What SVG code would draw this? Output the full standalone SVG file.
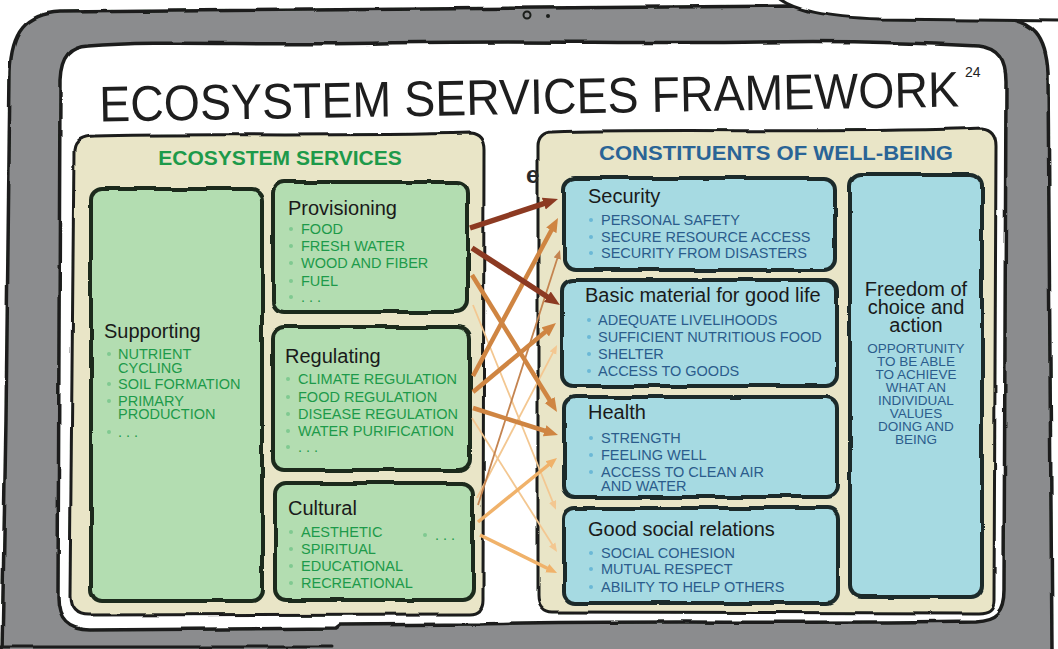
<svg xmlns="http://www.w3.org/2000/svg" width="1058" height="649" viewBox="0 0 1058 649">
  <style>
    .ink { stroke: #1b1e1b; stroke-linejoin: round; stroke-linecap: round; }
    .frame { fill: #8b8c8e; stroke-width: 3.5; }
    .screen { fill: #ffffff; stroke-width: 3.5; }
    .panel { fill: #e9e5c7; stroke-width: 3; }
    .gbox { fill: #b3ddb1; stroke: #1d2b1f; stroke-width: 4; }
    .bbox { fill: #a6dae2; stroke: #1c2a2c; stroke-width: 4; }
    text { font-family: "Liberation Sans", Arial, sans-serif; }
    .title { font-size: 50px; fill: #1e1e1e; }
    .sup { font-size: 14px; fill: #222; }
    .phead { font-size: 21px; font-weight: bold; }
    .h { font-size: 20px; fill: #1a1a1a; }
    .gi { font-size: 14.5px; fill: #1d9a4a; }
    .bi { font-size: 14.5px; fill: #2b5c8c; }
    .fb { font-size: 13.5px; fill: #2b5c8c; }
    .gb { fill: #80c991; }
    .bb { fill: #6bb8d6; }
    .arrow { fill: none; stroke-linecap: butt; }
    .a-dark { stroke: #8c3a22; stroke-width: 5.5; }
    .a-med { stroke: #cf8542; stroke-width: 4.5; }
    .a-light { stroke: #f0b26a; stroke-width: 3.5; }
    .a-brown { stroke: #c48450; stroke-width: 1.8; }
    .a-pale { stroke: #f3c791; stroke-width: 1.8; }
  </style>
  <defs>
    <filter id="rough" x="-3%" y="-3%" width="106%" height="106%">
      <feTurbulence type="fractalNoise" baseFrequency="0.025" numOctaves="2" seed="7" result="n"/>
      <feDisplacementMap in="SourceGraphic" in2="n" scale="4" xChannelSelector="R" yChannelSelector="G"/>
    </filter>
    <marker id="h-dark" viewBox="0 0 12 10" refX="5" refY="5" markerUnits="userSpaceOnUse" markerWidth="15" markerHeight="14" orient="auto">
      <path d="M0,0 L12,5 L0,10 Z" fill="#8c3a22"/>
    </marker>
    <marker id="h-med" viewBox="0 0 12 10" refX="5" refY="5" markerUnits="userSpaceOnUse" markerWidth="14" markerHeight="13" orient="auto">
      <path d="M0,0 L12,5 L0,10 Z" fill="#cf8542"/>
    </marker>
    <marker id="h-light" viewBox="0 0 12 10" refX="5" refY="5" markerUnits="userSpaceOnUse" markerWidth="11" markerHeight="11" orient="auto">
      <path d="M0,0 L12,5 L0,10 Z" fill="#f0b26a"/>
    </marker>
    <marker id="h-brown" viewBox="0 0 12 10" refX="5" refY="5" markerUnits="userSpaceOnUse" markerWidth="9" markerHeight="8" orient="auto">
      <path d="M0,0 L12,5 L0,10 Z" fill="#c48450"/>
    </marker>
    <marker id="h-pale" viewBox="0 0 12 10" refX="5" refY="5" markerUnits="userSpaceOnUse" markerWidth="9" markerHeight="8" orient="auto">
      <path d="M0,0 L12,5 L0,10 Z" fill="#f3c791"/>
    </marker>
  </defs>

  <rect width="1058" height="649" fill="#ffffff"/>

  <!-- tablet body, screen and speech bubble -->
  <g id="tablet" filter="url(#rough)">
    <path class="ink frame" d="M2,652 L6,420 L10,72 C11,32 26,14 60,12 L790,6 L1000,18 C1034,20 1046,36 1048,72 L1052,652 Z"/>
    <path class="ink screen" d="M88,46 C160,40 260,46 380,43 C520,40 640,44 760,42 C860,40 940,44 978,46 C998,48 1006,60 1006,82 L1004,590 C1004,612 996,620 975,621 C800,624 600,620 480,624 L340,625 L336,628 L90,630 C68,630 58,620 58,598 L60,80 C61,56 70,47 88,46 Z"/>
    <path class="ink" d="M776,-4 C792,11 826,17 880,19 L1062,21 L1062,-4 Z" fill="#ffffff" stroke-width="3"/>
    <line class="ink" x1="0" y1="647" x2="333" y2="647" stroke-width="3"/>
  </g>
  <g id="camera">
    <circle cx="527" cy="15" r="3.5" fill="none" stroke="#1b1e1b" stroke-width="2"/>
    <circle cx="548" cy="16" r="2" fill="#1b1e1b"/>
  </g>

  <g id="title">
    <text class="title" x="99" y="114" textLength="860" lengthAdjust="spacingAndGlyphs" transform="rotate(-1 530 96)">ECOSYSTEM SERVICES FRAMEWORK</text>
    <text class="sup" x="965" y="77">24</text>
  </g>

  <!-- background panels -->
  <g id="panel-services">
    <path class="ink panel" filter="url(#rough)" d="M95,136 C200,133 320,137 470,133 C480,134 484,140 484,150 L483,600 C483,610 478,614 470,614 L88,615 C75,615 70,608 70,596 L74,150 C75,140 83,136 95,136 Z"/>
    <text class="phead" x="280" y="165" text-anchor="middle" fill="#1d9a4a">ECOSYSTEM SERVICES</text>
  </g>
  <g id="panel-wellbeing">
    <path class="ink panel" filter="url(#rough)" d="M552,132 C680,128 840,134 982,128 C992,129 996,136 996,146 L994,600 C994,610 988,613 978,613 L552,612 C543,612 538,606 538,596 L538,146 C538,137 544,132 552,132 Z"/>
    <text class="phead" x="599" y="160" textLength="354" lengthAdjust="spacingAndGlyphs" fill="#2a6496">CONSTITUENTS OF WELL-BEING</text>
  </g>
  <text id="stray-e" x="526" y="183" font-size="24" font-weight="bold" fill="#2a2a2a">e</text>

  <!-- ecosystem service boxes -->
  <g id="supporting">
    <rect class="gbox" filter="url(#rough)" x="91" y="189" width="171" height="412" rx="11"/>
    <text class="h" x="104" y="338">Supporting</text>
    <circle class="gb" cx="109" cy="354" r="2"/>
    <text class="gi"><tspan x="118" y="359">NUTRIENT</tspan><tspan x="118" y="373">CYCLING</tspan></text>
    <circle class="gb" cx="109" cy="384" r="2"/>
    <text class="gi" x="118" y="389">SOIL FORMATION</text>
    <circle class="gb" cx="109" cy="401" r="2"/>
    <text class="gi"><tspan x="118" y="406">PRIMARY</tspan><tspan x="118" y="419">PRODUCTION</tspan></text>
    <circle class="gb" cx="109" cy="432" r="2"/>
    <text class="gi" x="118" y="437">. . .</text>
  </g>
  <g id="provisioning">
    <rect class="gbox" filter="url(#rough)" x="273" y="182" width="195" height="130" rx="11"/>
    <text class="h" x="288" y="215">Provisioning</text>
    <circle class="gb" cx="291" cy="229" r="2"/>
    <text class="gi" x="301" y="234">FOOD</text>
    <circle class="gb" cx="291" cy="246" r="2"/>
    <text class="gi" x="301" y="251">FRESH WATER</text>
    <circle class="gb" cx="291" cy="263" r="2"/>
    <text class="gi" x="301" y="268">WOOD AND FIBER</text>
    <circle class="gb" cx="291" cy="281" r="2"/>
    <text class="gi" x="301" y="286">FUEL</text>
    <circle class="gb" cx="291" cy="297" r="2"/>
    <text class="gi" x="301" y="302">. . .</text>
  </g>
  <g id="regulating">
    <rect class="gbox" filter="url(#rough)" x="273" y="327" width="197" height="143" rx="11"/>
    <text class="h" x="285" y="363">Regulating</text>
    <circle class="gb" cx="288" cy="379" r="2"/>
    <text class="gi" x="298" y="384">CLIMATE REGULATION</text>
    <circle class="gb" cx="288" cy="397" r="2"/>
    <text class="gi" x="298" y="402">FOOD REGULATION</text>
    <circle class="gb" cx="288" cy="414" r="2"/>
    <text class="gi" x="298" y="419">DISEASE REGULATION</text>
    <circle class="gb" cx="288" cy="431" r="2"/>
    <text class="gi" x="298" y="436">WATER PURIFICATION</text>
    <circle class="gb" cx="288" cy="447" r="2"/>
    <text class="gi" x="298" y="452">. . .</text>
  </g>
  <g id="cultural">
    <rect class="gbox" filter="url(#rough)" x="275" y="483" width="198" height="117" rx="11"/>
    <text class="h" x="288" y="515">Cultural</text>
    <circle class="gb" cx="291" cy="532" r="2"/>
    <text class="gi" x="301" y="537">AESTHETIC</text>
    <circle class="gb" cx="291" cy="549" r="2"/>
    <text class="gi" x="301" y="554">SPIRITUAL</text>
    <circle class="gb" cx="291" cy="566" r="2"/>
    <text class="gi" x="301" y="571">EDUCATIONAL</text>
    <circle class="gb" cx="291" cy="583" r="2"/>
    <text class="gi" x="301" y="588">RECREATIONAL</text>
    <circle class="gb" cx="425" cy="535" r="2"/>
    <text class="gi" x="435" y="540">. . .</text>
  </g>

  <!-- constituents of well-being boxes -->
  <g id="security">
    <rect class="bbox" filter="url(#rough)" x="564" y="178" width="271" height="92" rx="11"/>
    <text class="h" x="588" y="203">Security</text>
    <circle class="bb" cx="591" cy="220" r="2"/>
    <text class="bi" x="601" y="225">PERSONAL SAFETY</text>
    <circle class="bb" cx="591" cy="237" r="2"/>
    <text class="bi" x="601" y="242">SECURE RESOURCE ACCESS</text>
    <circle class="bb" cx="591" cy="253" r="2"/>
    <text class="bi" x="601" y="258">SECURITY FROM DISASTERS</text>
  </g>
  <g id="basic-material">
    <rect class="bbox" filter="url(#rough)" x="562" y="280" width="275" height="106" rx="11"/>
    <text class="h" x="585" y="302">Basic material for good life</text>
    <circle class="bb" cx="589" cy="320" r="2"/>
    <text class="bi" x="598" y="325">ADEQUATE LIVELIHOODS</text>
    <circle class="bb" cx="589" cy="337" r="2"/>
    <text class="bi" x="598" y="342">SUFFICIENT NUTRITIOUS FOOD</text>
    <circle class="bb" cx="589" cy="354" r="2"/>
    <text class="bi" x="598" y="359">SHELTER</text>
    <circle class="bb" cx="589" cy="371" r="2"/>
    <text class="bi" x="598" y="376">ACCESS TO GOODS</text>
  </g>
  <g id="health">
    <rect class="bbox" filter="url(#rough)" x="564" y="397" width="273" height="100" rx="11"/>
    <text class="h" x="588" y="419">Health</text>
    <circle class="bb" cx="591" cy="438" r="2"/>
    <text class="bi" x="601" y="443">STRENGTH</text>
    <circle class="bb" cx="591" cy="455" r="2"/>
    <text class="bi" x="601" y="460">FEELING WELL</text>
    <circle class="bb" cx="591" cy="472" r="2"/>
    <text class="bi"><tspan x="601" y="477">ACCESS TO CLEAN AIR</tspan><tspan x="601" y="491">AND WATER</tspan></text>
  </g>
  <g id="social-relations">
    <rect class="bbox" filter="url(#rough)" x="564" y="508" width="274" height="95" rx="11"/>
    <text class="h" x="588" y="536">Good social relations</text>
    <circle class="bb" cx="591" cy="553" r="2"/>
    <text class="bi" x="601" y="558">SOCIAL COHESION</text>
    <circle class="bb" cx="591" cy="569" r="2"/>
    <text class="bi" x="601" y="574">MUTUAL RESPECT</text>
    <circle class="bb" cx="591" cy="587" r="2"/>
    <text class="bi" x="601" y="592">ABILITY TO HELP OTHERS</text>
  </g>
  <g id="freedom">
    <rect class="bbox" filter="url(#rough)" x="850" y="174" width="132" height="423" rx="11"/>
    <text class="h" text-anchor="middle"><tspan x="916" y="296">Freedom of</tspan><tspan x="916" y="314">choice and</tspan><tspan x="916" y="332">action</tspan></text>
    <text class="fb" text-anchor="middle"><tspan x="916" y="353">OPPORTUNITY</tspan><tspan x="916" y="366">TO BE ABLE</tspan><tspan x="916" y="379">TO ACHIEVE</tspan><tspan x="916" y="392">WHAT AN</tspan><tspan x="916" y="405">INDIVIDUAL</tspan><tspan x="916" y="418">VALUES</tspan><tspan x="916" y="431">DOING AND</tspan><tspan x="916" y="444">BEING</tspan></text>
  </g>

  <!-- linkages between services and well-being -->
  <g id="connectors" class="arrow">
    <line class="a-pale" x1="473" y1="305" x2="554" y2="505" marker-end="url(#h-pale)"/>
    <line class="a-pale" x1="472" y1="418" x2="554.2" y2="547.6" marker-end="url(#h-pale)"/>
    <line class="a-pale" x1="477" y1="498" x2="554.6" y2="349.7" marker-end="url(#h-pale)"/>
    <line class="a-brown" x1="478" y1="505" x2="558.4" y2="255" marker-end="url(#h-brown)"/>
    <line class="a-light" x1="478" y1="522" x2="552" y2="462" marker-end="url(#h-light)"/>
    <line class="a-light" x1="480" y1="535" x2="551.3" y2="570.2" marker-end="url(#h-light)"/>
    <line class="a-med" x1="472" y1="275" x2="552.7" y2="405" marker-end="url(#h-med)"/>
    <line class="a-med" x1="473" y1="376" x2="554.1" y2="225.2" marker-end="url(#h-med)"/>
    <line class="a-med" x1="473" y1="392" x2="549.7" y2="328.2" marker-end="url(#h-med)"/>
    <line class="a-med" x1="473" y1="408" x2="550.2" y2="432.5" marker-end="url(#h-med)"/>
    <line class="a-dark" x1="470" y1="228" x2="549.7" y2="201.7" marker-end="url(#h-dark)"/>
    <line class="a-dark" x1="472" y1="248" x2="552.6" y2="300.2" marker-end="url(#h-dark)"/>
  </g>
</svg>
